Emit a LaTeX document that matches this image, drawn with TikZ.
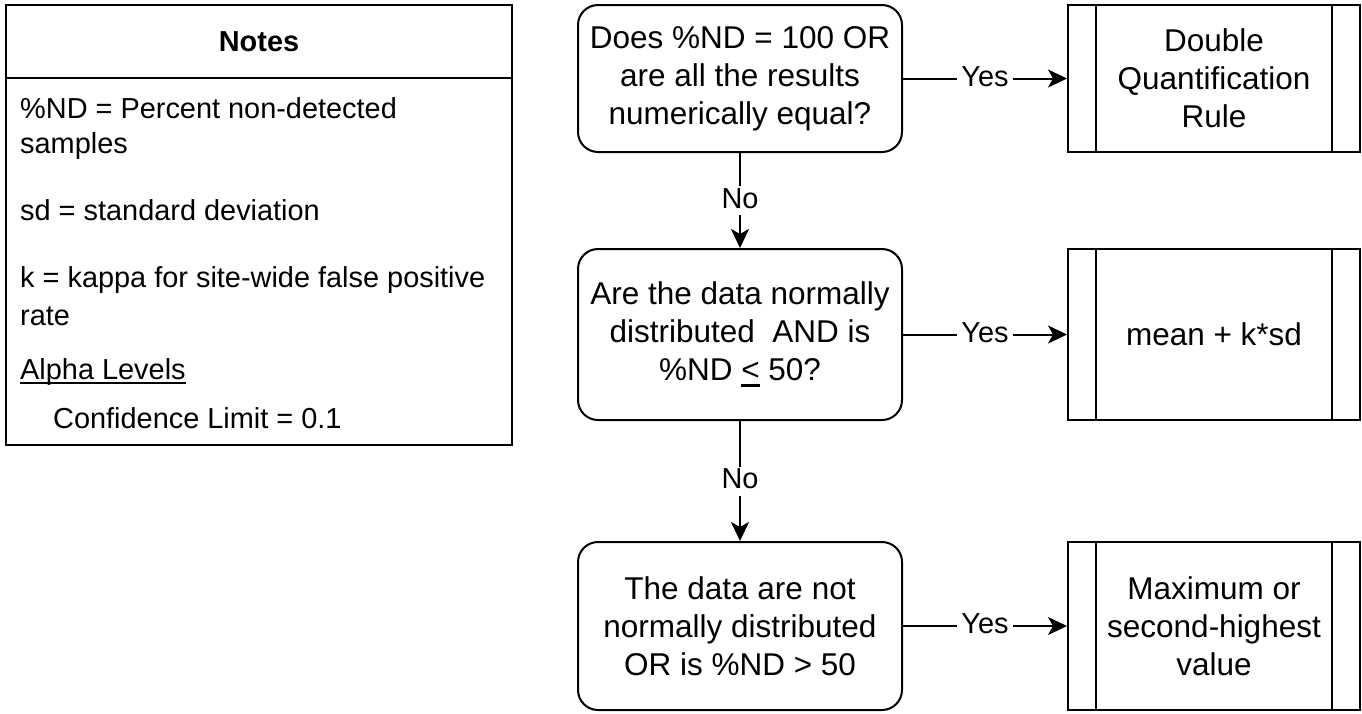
\documentclass[tikz,border=0pt]{standalone}
\usepackage{fontspec}
\setmainfont{Liberation Sans}
\usetikzlibrary{arrows.meta}
\newlength\myulw
\newcommand\myul[3][4.5pt]{\settowidth{\myulw}{#3}\rlap{\rule[-#1]{\myulw}{#2}}#3}
\newcommand\boxfont{\fontsize{31.5pt}{37.8pt}\selectfont}
\newcommand\notefont{\fontsize{28.9pt}{34.7pt}\selectfont}
\newcommand\notesbold{\fontsize{28.9pt}{34.7pt}\selectfont\bfseries}
\begin{document}
\begin{tikzpicture}[x=1pt,y=-1pt,
  ln/.style={line width=2pt},
  decbox/.style={draw, line width=2pt, rounded corners=20pt, minimum width=324pt, align=center, font=\boxfont, inner sep=0pt},
  procbox/.style={draw, line width=2pt, minimum width=292pt, align=center, font=\boxfont, inner sep=0pt},
  lbl/.style={fill=white, font=\notefont, inner xsep=4pt, inner ysep=1pt, text height=21pt, text depth=6pt},
  arr/.style={line width=2pt, -{Stealth[length=19pt,width=18pt,inset=5pt]}},
  notetxt/.style={anchor=base west, font=\notefont, inner sep=0pt}
]
\useasboundingbox (0,0) rectangle (1362,713);
\fill[white] (0,0) rectangle (1362,713);

% Notes panel
\node[draw, line width=2pt, minimum width=506pt, minimum height=73pt, font=\notesbold, inner sep=0pt] (nh) at (259,41.5) {Notes};
\node[draw, line width=2pt, minimum width=506pt, minimum height=367pt, inner sep=0pt] (nb) at (259,261.5) {};
\node[notetxt] (n1) at (20,118) {\%ND = Percent non-detected};
\node[notetxt] (n2) at (20,153) {samples};
\node[notetxt] (n3) at (20,220) {sd = standard deviation};
\node[notetxt] (n4) at (20,287) {k = kappa for site-wide false positive};
\node[notetxt] (n5) at (20,325) {rate};
\node[notetxt] (n6) at (20,379) {\myul[4.5pt]{1.6pt}{Alpha Levels}};
\node[notetxt] (n7) at (53,428) {Confidence Limit = 0.1};

% Decisions
\node[decbox, minimum height=147pt] (d1) at (740,78.5) {Does \%ND = 100 OR\\are all the results\\numerically equal?};
\node[decbox, minimum height=171pt] (d2) at (740,334.5) {Are the data normally\\distributed\ \ AND is\\\%ND \myul[6.5pt]{2.6pt}{<} 50?};
\node[decbox, minimum height=168pt] (d3) at (740,626) {The data are not\\normally distributed\\OR is \%ND > 50};

% Processes
\node[procbox, minimum height=147pt] (p1) at (1214,78.5) {Double\\Quantification\\Rule};
\node[procbox, minimum height=171pt] (p2) at (1214,334.5) {mean + k*sd};
\node[procbox, minimum height=168pt] (p3) at (1214,626) {Maximum or\\second-highest\\value};
\foreach \p in {p1,p2,p3}{
  \draw[ln] ([xshift=29pt]\p.north west) -- ([xshift=29pt]\p.south west);
  \draw[ln] ([xshift=-29pt]\p.north east) -- ([xshift=-29pt]\p.south east);
}

% Connectors
\draw[arr] (d1) -- node[lbl] (y1) {Yes} (p1);
\draw[arr] (d2) -- node[lbl] (y2) {Yes} (p2);
\draw[arr] (d3) -- node[lbl] (y3) {Yes} (p3);
\draw[arr] (d1) -- node[lbl] (no1) {No} (d2);
\draw[arr] (d2) -- node[lbl] (no2) {No} (d3);
\end{tikzpicture}
\end{document}
